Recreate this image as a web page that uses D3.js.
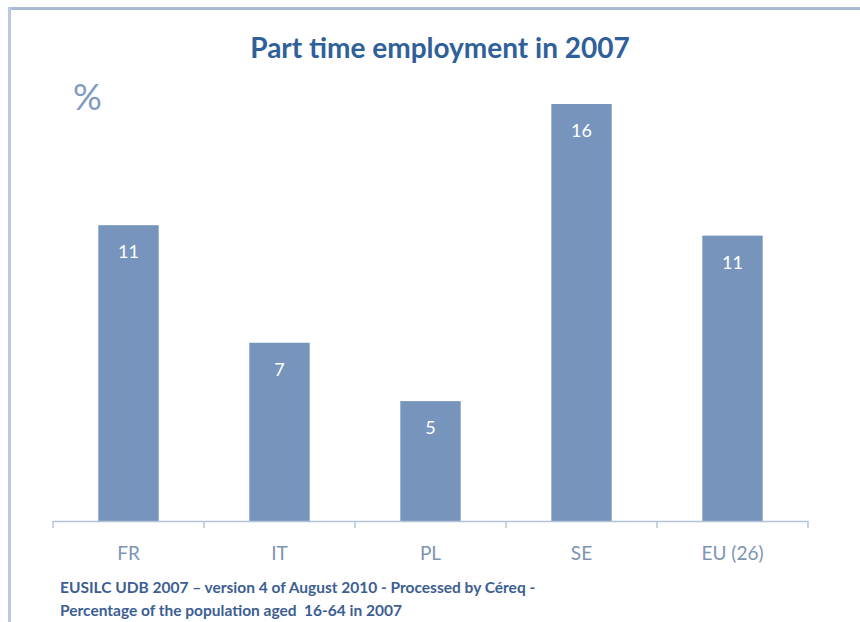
<!DOCTYPE html>
<html>
<head>
<meta charset="utf-8">
<script src="https://cdn.jsdelivr.net/npm/d3@7"></script>
<style>
  html, body { margin: 0; padding: 0; background: #fff; }
  svg { display: block; }
  svg text { white-space: pre; }
</style>
</head>
<body>
<svg id="chart" width="860" height="622"></svg>
<script>
// Part-time employment share by country, 2007 (%)
const countries = ["FR", "IT", "PL", "SE", "EU (26)"];
const partTimeShare = [11.35, 6.84, 4.6, 16.0, 10.95];
const title = "Part time employment in 2007";
const unitLabel = "%";
const sourceNotes = [
  "EUSILC UDB 2007 \u2013 version 4 of August 2010 - Processed by C\u00e9req -",
  "Percentage of the population aged  16-64 in 2007"
];

const W = 860, H = 622;
const margin = { left: 53, right: 52, top: 104, bottom: 101 };
const svg = d3.select("#chart");
const font = "Lato, 'Open Sans', sans-serif";

// Panel frame along the top and left edges
svg.append("line").attr("x1", 8).attr("x2", W).attr("y1", 8.5).attr("y2", 8.5)
  .attr("stroke", "#A7BBD3").attr("stroke-width", 3);
svg.append("line").attr("x1", 9.5).attr("x2", 9.5).attr("y1", 7).attr("y2", H)
  .attr("stroke", "#B9CADD").attr("stroke-width", 3);

const x = d3.scaleBand()
  .domain(countries)
  .range([margin.left, W - margin.right])
  .paddingInner(0.6)
  .paddingOuter(0.3);

const y = d3.scaleLinear()
  .domain([0, 16])
  .range([H - margin.bottom, margin.top]);

const data = countries.map((c, i) => ({ country: c, value: partTimeShare[i] }));

// Bars
svg.append("g").selectAll("rect")
  .data(data)
  .join("rect")
  .attr("x", d => x(d.country))
  .attr("y", d => y(d.value))
  .attr("width", x.bandwidth())
  .attr("height", d => y(0) - y(d.value))
  .attr("fill", "#7795BC");

// Value labels inside bar tops
svg.append("g").selectAll("text")
  .data(data)
  .join("text")
  .attr("x", d => x(d.country) + x.bandwidth() / 2)
  .attr("y", d => y(d.value) + 33)
  .attr("text-anchor", "middle")
  .attr("font-family", font)
  .attr("font-size", 18)
  .attr("fill", "#fff")
  .text(d => d3.format(".0f")(d.value));

// Category axis with ticks at band boundaries
const axisY = H - margin.bottom;
const axis = svg.append("g");
axis.append("line")
  .attr("x1", margin.left).attr("x2", W - margin.right)
  .attr("y1", axisY + 0.5).attr("y2", axisY + 0.5)
  .attr("stroke", "#B4C4D8").attr("stroke-width", 1.5);
const step = x.step();
const boundaries = countries.map((c, i) => x(c) - x.paddingInner() * step / 2)
  .concat([x(countries[countries.length - 1]) + x.bandwidth() + x.paddingInner() * step / 2]);
axis.selectAll("line.tick")
  .data(boundaries)
  .join("line")
  .attr("class", "tick")
  .attr("x1", d => d).attr("x2", d => d)
  .attr("y1", axisY).attr("y2", axisY + 7)
  .attr("stroke", "#B4C4D8").attr("stroke-width", 1.5);
axis.selectAll("text")
  .data(countries)
  .join("text")
  .attr("x", d => x(d) + x.bandwidth() / 2)
  .attr("y", axisY + 39)
  .attr("text-anchor", "middle")
  .attr("font-family", font)
  .attr("font-size", 19)
  .attr("fill", "#7E94B3")
  .text(d => d);

// Title
svg.append("text")
  .attr("x", 440).attr("y", 58)
  .attr("text-anchor", "middle")
  .attr("font-family", font)
  .attr("font-weight", "bold")
  .attr("font-size", 28)
  .attr("fill", "#30609A")
  .text(title);

// Unit
svg.append("text")
  .attr("x", 73).attr("y", 110)
  .attr("font-family", font)
  .attr("font-size", 36)
  .attr("fill", "#7F9BC1")
  .text(unitLabel);

// Source notes
svg.append("g").selectAll("text")
  .data(sourceNotes)
  .join("text")
  .attr("x", 60)
  .attr("y", (d, i) => 593 + i * 23)
  .attr("font-family", font)
  .attr("font-weight", "bold")
  .attr("font-size", 15.5)
  .attr("fill", "#3C5E92")
  .text(d => d);
</script>
</body>
</html>
